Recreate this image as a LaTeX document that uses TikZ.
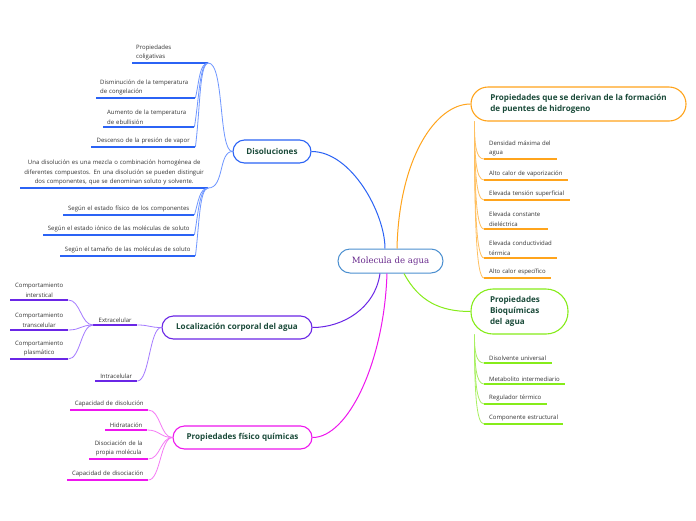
\documentclass[tikz,border=0pt]{standalone}
\usepackage{fontspec}
\setmainfont{Open Sans}
\newfontfamily\serifc{DejaVu Serif}
\usetikzlibrary{calc}
\definecolor{cblue}{HTML}{2B63F5}
\definecolor{cbluel}{HTML}{6E96FF}
\definecolor{cpur}{HTML}{6A26E6}
\definecolor{cpurl}{HTML}{A57BFF}
\definecolor{cmag}{HTML}{EE16EE}
\definecolor{cmagl}{HTML}{F57AF5}
\definecolor{corg}{HTML}{FFA41C}
\definecolor{corgl}{HTML}{FFC060}
\definecolor{cgrn}{HTML}{86EC1A}
\definecolor{cgrnl}{HTML}{A8F060}
\definecolor{cctr}{HTML}{4C90D0}
\definecolor{ctitle}{HTML}{1B4B3A}
\definecolor{clabel}{HTML}{333333}
\definecolor{cctrtext}{HTML}{6A2C8E}
\tikzset{
  titlebox/.style={draw=#1, line width=1.1pt, fill=white, font=\bfseries\fontsize{8.1}{11}\selectfont, text=ctitle, align=left, inner sep=0pt},
  leaf/.style={anchor=south west, inner xsep=4pt, inner ysep=2.5pt, font=\fontsize{6}{9.5}\selectfont, text=clabel},
  ul/.style={line width=1.6pt, draw=#1},
  link/.style={line width=0.8pt, draw=#1},
  mainlink/.style={line width=1pt, draw=#1},
}
\begin{document}
\begin{tikzpicture}[x=1pt,y=-1pt]
\fill[white] (0,0) rectangle (696,520);
\useasboundingbox (0,0) rectangle (696,520);

% central node
\node[draw=cctr, line width=1pt, fill=white, rounded corners=12pt, minimum width=105pt, minimum height=24pt, inner sep=0pt, font=\serifc\fontsize{8.6}{10}\selectfont, text=cctrtext] (M) at (390.5,261) {Molecula de agua};

% main topics
\node[titlebox=cblue, rounded corners=11.5pt, minimum width=78pt, minimum height=23pt] (D) at (272,151.5) {Disoluciones};
\node[titlebox=cpur, rounded corners=11.5pt, minimum width=150pt, minimum height=23pt] (L) at (237,327.5) {Localización corporal del agua};
\node[titlebox=cmag, rounded corners=11.5pt, minimum width=139pt, minimum height=23pt] (F) at (242.5,437.5) {Propiedades físico químicas};
\node[titlebox=corg, rounded corners=17pt, minimum width=215pt, minimum height=34pt] (O) at (578.5,104) {Propiedades que se derivan de la formación\\de puentes de hidrogeno};
\node[titlebox=cgrn, rounded corners=22pt, minimum width=97pt, minimum height=45pt, text width=59pt, inner xsep=19pt] (G) at (519.5,311.5) {Propiedades\\Bioquímicas\\del agua};

% Disoluciones leaves
\node[leaf, text width=68pt, align=left] (c1) at (132,63) {Propiedades\\coligativas};
\node[leaf, text width=91pt, align=left] (c2) at (96,98) {Disminución de la temperatura\\de congelación};
\node[leaf, text width=83pt, align=left] (c3) at (103,127) {Aumento de la temperatura\\de ebullisión};
\node[leaf, text width=96pt, align=center] (c4) at (91,147) {Descenso de la presión de vapor};
\node[leaf, text width=180pt, align=center] (c5) at (20,188) {Una disolución es una mezcla o combinación homogénea de\\diferentes compuestos. En una disolución se pueden distinguir\\dos componentes, que se denominan soluto y solvente.};
\node[leaf, text width=123pt, align=center] (c6) at (63,215) {Según el estado físico de los componentes};
\node[leaf, text width=143pt, align=center] (c7) at (43,235) {Según el estado iónico de las moléculas de soluto};
\node[leaf, text width=127pt, align=center] (c8) at (60,256) {Según el tamaño de las moléculas de soluto};

% Localizacion leaves
\node[leaf, text width=36pt, align=center] (e1) at (93,325) {Extracelular};
\node[leaf, text width=34pt, align=center] (e2) at (95,381) {Intracelular};
\node[leaf, text width=50pt, align=center] (e3) at (10,300) {Comportamiento\\interstical};
\node[leaf, text width=50pt, align=center] (e4) at (10,330) {Comportamiento\\transcelular};
\node[leaf, text width=50pt, align=center] (e5) at (10,359) {Comportamiento\\plasmático};

% Fisico quimicas leaves
\node[leaf, text width=70pt, align=center] (f1) at (70,410) {Capacidad de disolución};
\node[leaf, text width=34pt, align=center] (f2) at (105,430) {Hidratación};
\node[leaf, text width=51pt, align=center] (f3) at (89,459) {Disociación de la\\propia molécula};
\node[leaf, text width=73pt, align=center] (f4) at (67,480) {Capacidad de disociación};

% Puentes de hidrogeno leaves
\tikzset{rleaf/.style={leaf, inner xsep=5pt, align=left}}
\node[rleaf, text width=63pt] (o1) at (484,159) {Densidad máxima del\\agua};
\node[rleaf, text width=74pt] (o2) at (484,180) {Alto calor de vaporización};
\node[rleaf, text width=76pt] (o3) at (484,200) {Elevada tensión superficial};
\node[rleaf, text width=54pt] (o4) at (484,229) {Elevada constante\\dieléctrica};
\node[rleaf, text width=63pt] (o5) at (484,258) {Elevada conductividad\\térmica};
\node[rleaf, text width=57pt] (o6) at (484,278) {Alto calor específico};

% Bioquimicas leaves
\node[rleaf, text width=58pt] (g1) at (484,363) {Disolvente universal};
\node[rleaf, text width=71pt] (g2) at (484,384) {Metabolito intermediario};
\node[rleaf, text width=53pt] (g3) at (484,404) {Regulador térmico};
\node[rleaf, text width=69pt] (g4) at (484,424) {Componente estructural};

% underlines
\foreach \n in {c1,c2,c3,c4,c5,c6,c7,c8} \draw[ul=cblue] (\n.south west) -- (\n.south east);
\foreach \n in {e1,e2,e3,e4,e5} \draw[ul=cpur] (\n.south west) -- (\n.south east);
\foreach \n in {f1,f2,f3,f4} \draw[ul=cmag] (\n.south west) -- (\n.south east);
\foreach \n in {o1,o2,o3,o4,o5,o6} \draw[ul=corg] (\n.south west) -- (\n.south east);
\foreach \n in {g1,g2,g3,g4} \draw[ul=cgrn] (\n.south west) -- (\n.south east);

% main connectors
\draw[mainlink=cblue] ($(M.north)+(-5.5,0)$) .. controls +(0,-35) and +(40,0) .. (D.east);
\draw[mainlink=corg] ($(M.north)+(6.5,0)$) .. controls +(2,-90) and +(-35,0) .. (O.west);
\draw[mainlink=cpur] ($(M.south)+(-10.5,0)$) .. controls +(-5,35) and +(30,0) .. (L.east);
\draw[mainlink=cmag] ($(M.south)+(-3.5,0)$) .. controls +(-3,90) and +(35,0) .. (F.east);
\draw[mainlink=cgrn] ($(M.south)+(13.5,0)$) .. controls +(15,28) and +(-30,0) .. (G.west);

% Disoluciones connectors
\draw[link=cbluel] (D.west) .. controls +(-14,0) and +(16,0) .. (c1.south east);
\draw[link=cbluel] (D.west) .. controls +(-14,0) and +(16,0) .. (c5.south east);
\draw[link=cbluel] (c1.south east) .. controls +(-9,0) and +(4,-17) .. (c2.south east);
\draw[link=cbluel] (c1.south east) .. controls +(-9,0) and +(5,-30) .. (c3.south east);
\draw[link=cbluel] (c1.south east) .. controls +(-9,0) and +(5,-40) .. (c4.south east);
\draw[link=cbluel] (c5.south east) .. controls +(-9,0) and +(4,-13) .. (c6.south east);
\draw[link=cbluel] (c5.south east) .. controls +(-9,0) and +(4,-22) .. (c7.south east);
\draw[link=cbluel] (c5.south east) .. controls +(-9,0) and +(4,-32) .. (c8.south east);

% Localizacion connectors
\draw[link=cpurl] (L.west) .. controls +(-12,0) and +(12,0) .. (e1.south east);
\draw[link=cpurl] (L.west) .. controls +(-12,0) and +(12,0) .. (e2.south east);
\foreach \n in {e3,e4,e5} \draw[link=cpurl] (e1.south west) .. controls +(-12,0) and +(12,0) .. (\n.south east);

% Fisico quimicas connectors
\foreach \n in {f1,f2,f3,f4} \draw[link=cmagl] (F.west) .. controls +(-12,0) and +(12,0) .. (\n.south east);

% Puentes connectors
\coordinate (Ob) at ($(O.south west)+(4,0)$);
\draw[link=corgl] (Ob) .. controls +(0,23) and +(-8,0) .. (o1.south west);
\draw[link=corgl] (Ob) .. controls +(0,35) and +(-8,0) .. (o2.south west);
\draw[link=corgl] (Ob) .. controls +(0,47) and +(-8,0) .. (o3.south west);
\draw[link=corgl] (Ob) .. controls +(0,65) and +(-8,0) .. (o4.south west);
\draw[link=corgl] (Ob) .. controls +(0,82) and +(-8,0) .. (o5.south west);
\draw[link=corgl] (Ob) .. controls +(0,94) and +(-8,0) .. (o6.south west);

% Bioquimicas connectors
\coordinate (Gb) at ($(G.south west)+(4,0)$);
\draw[link=cgrnl] (Gb) .. controls +(0,17) and +(-8,0) .. (g1.south west);
\draw[link=cgrnl] (Gb) .. controls +(0,30) and +(-8,0) .. (g2.south west);
\draw[link=cgrnl] (Gb) .. controls +(0,42) and +(-8,0) .. (g3.south west);
\draw[link=cgrnl] (Gb) .. controls +(0,54) and +(-8,0) .. (g4.south west);
\end{tikzpicture}
\end{document}
